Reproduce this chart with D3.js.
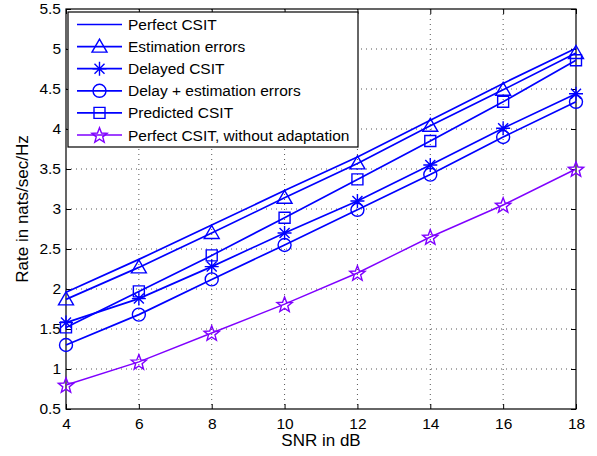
<!DOCTYPE html>
<html>
<head>
<meta charset="utf-8">
<script src="https://cdn.jsdelivr.net/npm/d3@7"></script>
<style>
  body { margin: 0; background: #fff; }
  text { font-family: "Liberation Sans", Arial, sans-serif; fill: #000; }
</style>
</head>
<body>
<div id="container"></div>
<script>
// data
const snr = [4, 6, 8, 10, 12, 14, 16, 18];
const perfectCsit = [1.96, 2.37, 2.80, 3.23, 3.65, 4.11, 4.57, 5.01];
const estimationErrors = [1.87, 2.27, 2.70, 3.14, 3.57, 4.04, 4.49, 4.95];
const delayedCsit = [1.58, 1.88, 2.28, 2.70, 3.10, 3.55, 4.01, 4.44];
const delayEstErrors = [1.30, 1.68, 2.12, 2.55, 2.99, 3.43, 3.90, 4.34];
const predictedCsit = [1.52, 1.97, 2.42, 2.89, 3.37, 3.85, 4.34, 4.86];
const noAdaptation = [0.80, 1.09, 1.45, 1.81, 2.20, 2.65, 3.05, 3.50];

const xTicks = [4, 6, 8, 10, 12, 14, 16, 18];
const yTicks = [0.5, 1, 1.5, 2, 2.5, 3, 3.5, 4, 4.5, 5, 5.5];

const seriesNames = [
  "Perfect CSIT",
  "Estimation errors",
  "Delayed CSIT",
  "Delay + estimation errors",
  "Predicted CSIT",
  "Perfect CSIT, without adaptation"
];

const series = [
  { name: seriesNames[0], values: perfectCsit, marker: "none", color: "#0000ff" },
  { name: seriesNames[1], values: estimationErrors, marker: "triangle", color: "#0000ff" },
  { name: seriesNames[2], values: delayedCsit, marker: "asterisk", color: "#0000ff" },
  { name: seriesNames[3], values: delayEstErrors, marker: "circle", color: "#0000ff" },
  { name: seriesNames[4], values: predictedCsit, marker: "square", color: "#0000ff" },
  { name: seriesNames[5], values: noAdaptation, marker: "star", color: "#7f00ff" }
];

const width = 597, height = 456;
const margin = { top: 9, right: 21, bottom: 47, left: 66 };
const w = width - margin.left - margin.right;
const h = height - margin.top - margin.bottom;

const svg = d3.select("#container")
  .append("svg")
  .attr("width", width)
  .attr("height", height);

const g = svg.append("g").attr("transform", `translate(${margin.left},${margin.top})`);

const x = d3.scaleLinear().domain([4, 18]).range([0, w]);
const y = d3.scaleLinear().domain([0.5, 5.5]).range([h, 0]);

// dotted grid
g.append("g")
  .selectAll("line")
  .data(xTicks.slice(1, -1))
  .enter()
  .append("line")
  .attr("x1", d => x(d)).attr("x2", d => x(d))
  .attr("y1", 0).attr("y2", h)
  .attr("stroke", "#555").attr("stroke-width", 1)
  .attr("stroke-dasharray", "1,4");

g.append("g")
  .selectAll("line")
  .data(yTicks.slice(1, -1))
  .enter()
  .append("line")
  .attr("x1", 0).attr("x2", w)
  .attr("y1", d => y(d)).attr("y2", d => y(d))
  .attr("stroke", "#555").attr("stroke-width", 1)
  .attr("stroke-dasharray", "1,4");

// axes, ticks inside on all four sides
const fmt = d => String(d);
const bottomAxis = g.append("g")
  .attr("transform", `translate(0,${h})`)
  .call(d3.axisBottom(x).tickValues(xTicks).tickSize(-5).tickPadding(10).tickFormat(fmt));
const leftAxis = g.append("g")
  .call(d3.axisLeft(y).tickValues(yTicks).tickSize(-5).tickPadding(10).tickFormat(fmt));
g.append("g")
  .call(d3.axisTop(x).tickValues(xTicks).tickSize(-5).tickFormat(""));
g.append("g")
  .attr("transform", `translate(${w},0)`)
  .call(d3.axisRight(y).tickValues(yTicks).tickSize(-5).tickFormat(""));

g.selectAll(".domain").remove();
g.selectAll(".tick line").attr("stroke", "#000");
g.selectAll(".tick text").style("font-size", "15.5px").attr("fill", "#000");
leftAxis.selectAll(".tick text").attr("x", -5);
bottomAxis.selectAll(".tick text").attr("y", 9);

g.append("rect")
  .attr("x", 0).attr("y", 0).attr("width", w).attr("height", h)
  .attr("fill", "none").attr("stroke", "#000").attr("stroke-width", 1.2);

// markers
function markerPath(type) {
  switch (type) {
    case "triangle": return "M0,-7.5L7.5,5.5L-7.5,5.5Z";
    case "square": return "M-5.5,-5.5H5.5V5.5H-5.5Z";
    case "circle": return "M6.5,0A6.5,6.5 0 1,1 -6.5,0A6.5,6.5 0 1,1 6.5,0Z";
    case "asterisk": return "M0,-7V7M-7,0H7M-5,-5L5,5M-5,5L5,-5";
    case "star": {
      const pts = [];
      for (let i = 0; i < 10; i++) {
        const r = i % 2 === 0 ? 8 : 3.4;
        const a = -Math.PI / 2 + i * Math.PI / 5;
        pts.push([r * Math.cos(a), r * Math.sin(a) + 0.8]);
      }
      return "M" + pts.map(p => p.join(",")).join("L") + "Z";
    }
    default: return null;
  }
}

const line = d3.line().x((d, i) => x(snr[i])).y(d => y(d));

series.forEach(s => {
  const sw = s.marker === "star" ? 1.4 : 1.7;
  g.append("path")
    .datum(s.values)
    .attr("d", line)
    .attr("fill", "none")
    .attr("stroke", s.color)
    .attr("stroke-width", sw);
  const p = markerPath(s.marker);
  if (p) {
    g.append("g")
      .selectAll("path")
      .data(s.values)
      .enter()
      .append("path")
      .attr("transform", (d, i) => `translate(${x(snr[i])},${y(d)})`)
      .attr("d", p)
      .attr("fill", "none")
      .attr("stroke", s.color)
      .attr("stroke-width", 1.4);
  }
});

// legend
const legend = svg.append("g").attr("transform", "translate(68,12)");
legend.append("rect")
  .attr("width", 290).attr("height", 135)
  .attr("fill", "#fff").attr("stroke", "#000").attr("stroke-width", 1.2);

series.forEach((s, i) => {
  const ly = 12.5 + i * 22.1;
  legend.append("line")
    .attr("x1", 9).attr("x2", 54).attr("y1", ly).attr("y2", ly)
    .attr("stroke", s.color).attr("stroke-width", s.marker === "star" ? 1.4 : 1.7);
  const p = markerPath(s.marker);
  if (p) {
    legend.append("path")
      .attr("transform", `translate(31.5,${ly})`)
      .attr("d", p)
      .attr("fill", "none")
      .attr("stroke", s.color)
      .attr("stroke-width", 1.4);
  }
  legend.append("text")
    .attr("x", 60).attr("y", ly).attr("dy", "0.36em")
    .style("font-size", "15.5px")
    .text(s.name);
});

// axis labels
svg.append("text")
  .attr("x", margin.left + w / 2).attr("y", 446)
  .attr("text-anchor", "middle")
  .style("font-size", "17px")
  .text("SNR in dB");

svg.append("text")
  .attr("transform", `translate(28,${margin.top + h / 2}) rotate(-90)`)
  .attr("text-anchor", "middle")
  .style("font-size", "17px")
  .text("Rate in nats/sec/Hz");
</script>
</body>
</html>
